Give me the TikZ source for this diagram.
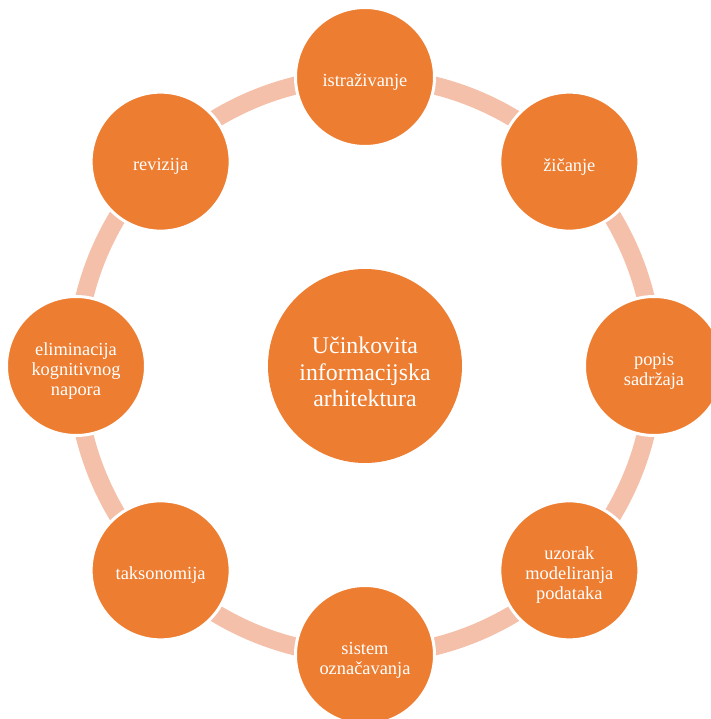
\documentclass[tikz,border=0pt]{standalone}
\usepackage{fontspec}
\setmainfont{Liberation Serif}
\usetikzlibrary{backgrounds}
\definecolor{ciorange}{RGB}{237,125,49}
\definecolor{ciring}{RGB}{244,192,170}

\begin{document}
\begin{tikzpicture}[x=0.75pt,y=0.75pt,semithick]
          \tikzstyle{topic}=[circle,fill=ciorange,draw=white,line width=2.25pt,minimum size=104.25pt,inner sep=0pt]
          \tikzstyle{core}=[circle,fill=ciorange,minimum size=145.5pt,inner sep=0pt]
          \tikzstyle{topictext}=[align=center,text=white,inner sep=0pt,yshift=-3.75pt,font=\fontsize{13.8}{15}\selectfont]
          \tikzstyle{coretext}=[align=center,text=white,inner sep=0pt,yshift=-4.5pt,font=\fontsize{17.9}{20}\selectfont]
          \tikzstyle{ring}=[draw=ciring,line width=13.5pt,bend left=22.5,looseness=0.885]
          \clip (-365,-353) rectangle (346,366);
          \node[core,  label={[coretext]center:Učinkovita\\informacijska\\arhitektura}] (Z) at (0,0) {};
          \node[topic, label={[topictext]center:istraživanje}]                  (A) at (90:289)  {};
          \node[topic, label={[topictext]center:žičanje}]                       (B) at (45:289)  {};
          \node[topic, label={[topictext]center:popis\\sadržaja}]               (C) at (0:289)   {};
          \node[topic, label={[topictext]center:uzorak\\modeliranja\\podataka}] (D) at (-45:289) {};
          \node[topic, label={[topictext]center:sistem\\označavanja}]           (E) at (-90:289) {};
          \node[topic, label={[topictext]center:taksonomija}]                   (F) at (225:289) {};
          \node[topic, label={[topictext]center:eliminacija\\kognitivnog\\napora}] (G) at (180:289) {};
          \node[topic, label={[topictext]center:revizija}]                      (H) at (135:289) {};

          \begin{scope}[on background layer]
            \path (A.center) edge[ring] (B.center)
                  (B.center) edge[ring] (C.center)
                  (C.center) edge[ring] (D.center)
                  (D.center) edge[ring] (E.center)
                  (E.center) edge[ring] (F.center)
                  (F.center) edge[ring] (G.center)
                  (G.center) edge[ring] (H.center)
                  (H.center) edge[ring] (A.center);
          \end{scope}
        \end{tikzpicture}
\end{document}
